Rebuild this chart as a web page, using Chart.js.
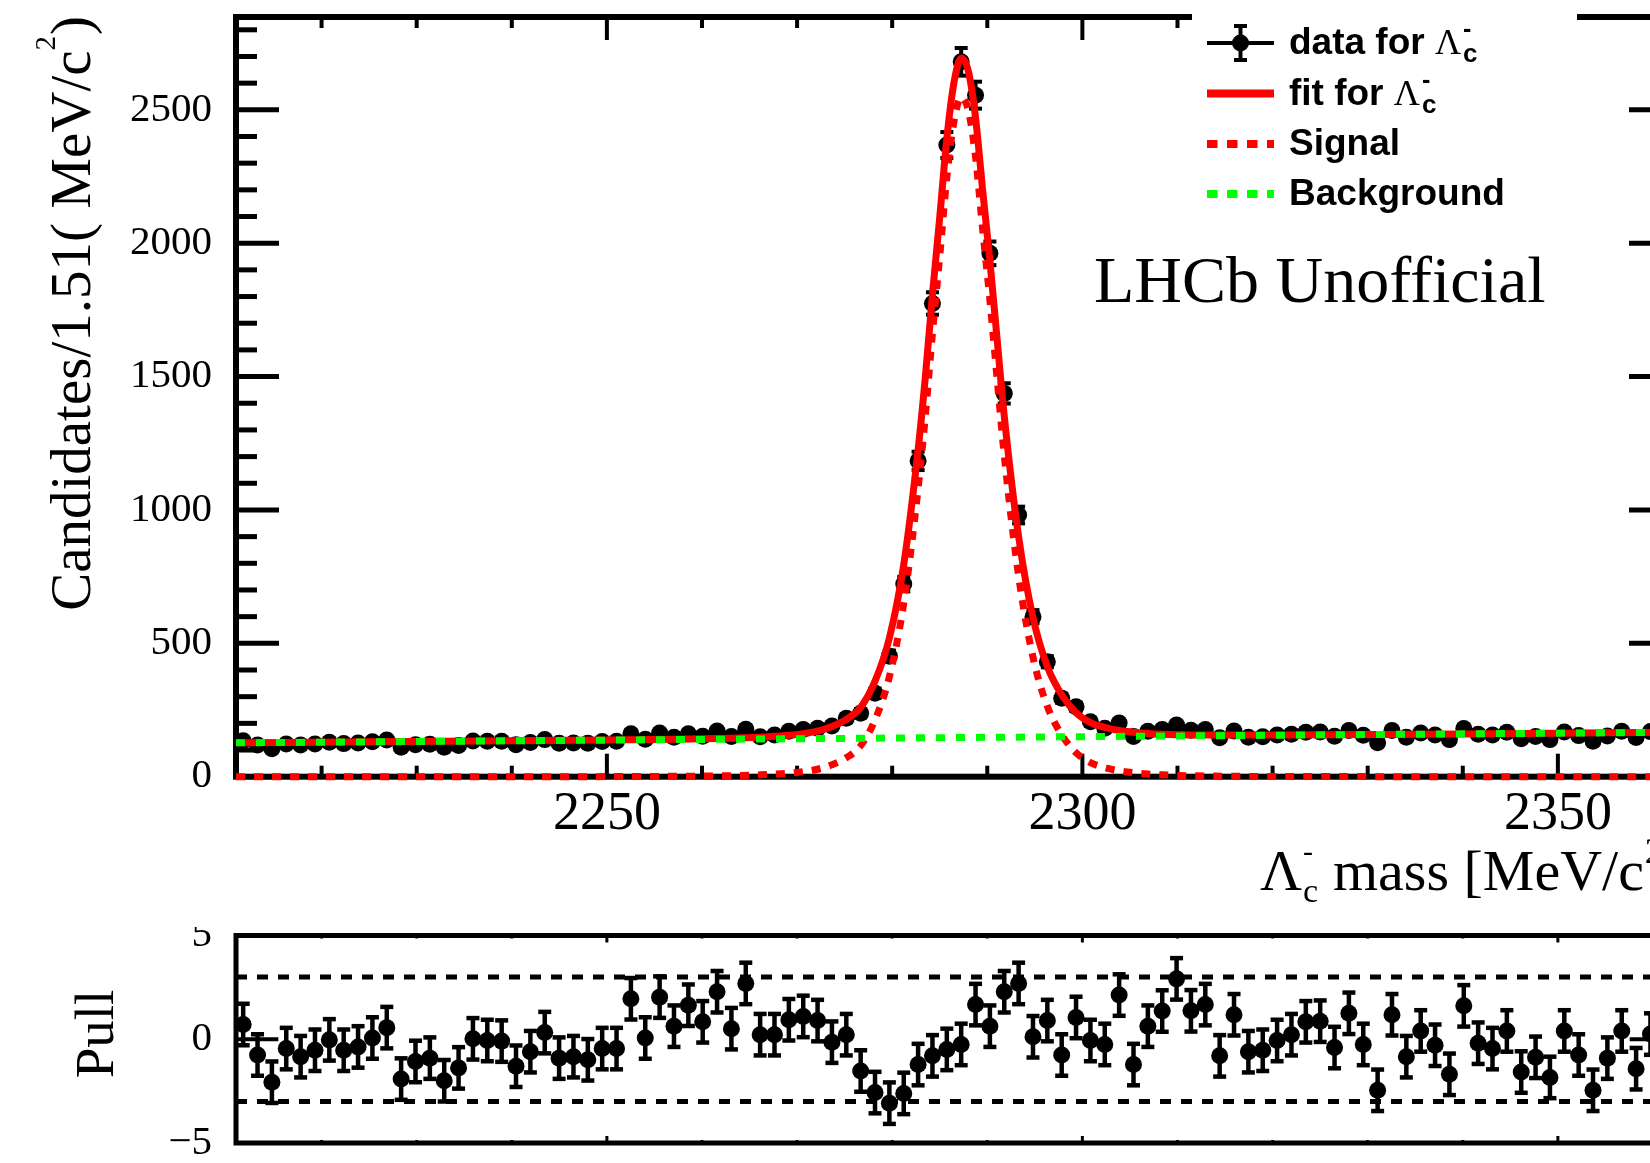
<!DOCTYPE html>
<html><head><meta charset="utf-8">
<script src="https://cdn.jsdelivr.net/npm/chart.js@4.4.1/dist/chart.umd.min.js"></script>
<style>
html,body{margin:0;padding:0;background:#fff;overflow:hidden;width:1650px;height:1163px;}
canvas{position:absolute;left:0;}
#main{top:0;}
#pull{top:927px;}
</style></head><body>
<canvas id="main" width="1700" height="927"></canvas>
<canvas id="pull" width="1700" height="236"></canvas>
<script>
// ---------------- data ----------------
const binCenters = [2211.755,2213.265,2214.775,2216.285,2217.795,2219.305,2220.815,2222.325,2223.835,2225.345,
2226.855,2228.365,2229.875,2231.385,2232.895,2234.405,2235.915,2237.425,2238.935,2240.445,
2241.955,2243.465,2244.975,2246.485,2247.995,2249.505,2251.015,2252.525,2254.035,2255.545,
2257.055,2258.565,2260.075,2261.585,2263.095,2264.605,2266.115,2267.625,2269.135,2270.645,
2272.155,2273.665,2275.175,2276.685,2278.195,2279.705,2281.215,2282.725,2284.235,2285.745,
2287.255,2288.765,2290.275,2291.785,2293.295,2294.805,2296.315,2297.825,2299.335,2300.845,
2302.355,2303.865,2305.375,2306.885,2308.395,2309.905,2311.415,2312.925,2314.435,2315.945,
2317.455,2318.965,2320.475,2321.985,2323.495,2325.005,2326.515,2328.025,2329.535,2331.045,
2332.555,2334.065,2335.575,2337.085,2338.595,2340.105,2341.615,2343.125,2344.635,2346.145,
2347.655,2349.165,2350.675,2352.185,2353.695,2355.205,2356.715,2358.225,2359.735,2361.245];
const binHalfWidth = 0.755;

const counts = [135,119,105,123,119,123,129,124,126,131,
138,110,120,122,110,117,134,133,133,120,
128,139,125,126,125,132,133,161,140,164,
148,161,152,171,151,178,150,156,170,177,
182,190,219,238,313,452,722,1184,1774,2368,
2680,2555,1962,1437,981,600,431,294,262,206,
182,201,151,170,177,194,174,177,146,171,
148,150,156,159,167,168,152,173,155,127,
173,148,164,156,139,181,159,156,167,142,
151,139,168,154,133,153,170,147,169,160];

const countErrors = [11.6,10.9,10.2,11.1,10.9,11.1,11.4,11.1,11.2,11.4,
11.7,10.5,11.0,11.0,10.5,10.8,11.6,11.5,11.5,11.0,
11.3,11.8,11.2,11.2,11.2,11.5,11.5,12.7,11.8,12.8,
12.2,12.7,12.3,13.1,12.3,13.3,12.2,12.5,13.0,13.3,
13.5,13.8,14.8,15.4,17.7,21.3,26.9,34.4,42.1,48.7,
51.8,50.5,44.3,37.9,31.3,24.5,20.8,17.1,16.2,14.4,
13.5,14.2,12.3,13.0,13.3,13.9,13.2,13.3,12.1,13.1,
12.2,12.2,12.5,12.6,12.9,13.0,12.3,13.2,12.4,11.3,
13.2,12.2,12.8,12.5,11.8,13.5,12.6,12.5,12.9,11.9,
12.3,11.8,13.0,12.4,11.5,12.4,13.0,12.1,13.0,12.6];

const pulls = [0.71,-0.76,-2.07,-0.45,-0.84,-0.53,-0.03,-0.53,-0.37,0.06,
0.56,-1.92,-1.07,-0.91,-2.0,-1.38,0.02,-0.06,-0.09,-1.3,
-0.6,0.32,-0.91,-0.84,-0.99,-0.45,-0.45,1.95,0.06,2.03,
0.63,1.64,0.84,2.29,0.51,2.69,0.22,0.22,0.94,1.1,
0.9,-0.14,0.22,-1.53,-2.57,-3.08,-2.61,-1.22,-0.8,-0.49,
-0.25,1.67,0.63,2.29,2.69,0.12,0.9,-0.76,1.05,-0.06,
-0.25,2.13,-1.22,0.63,1.36,2.91,1.37,1.67,-0.8,1.18,
-0.6,-0.53,-0.06,0.22,0.84,0.87,-0.4,1.25,-0.25,-2.46,
1.18,-0.84,0.4,-0.29,-1.69,1.61,-0.19,-0.45,0.4,-1.58,
-0.87,-1.84,0.4,-0.76,-2.46,-0.91,0.4,-1.42,0.25,-0.5];
const pullError = 1;

const fitMass = [2211,2225,2240,2250,2257.055,2260.075,2263.095,2266.115,2267.625,2269.135,
2270.645,2272.155,2273.665,2275.175,2276.685,2278.195,2279.705,2281.215,2282.725,2283.48,
2284.235,2284.99,2285.745,2286.5,2287.255,2288.0,2288.765,2289.52,2290.275,2291.03,
2291.785,2293.295,2294.805,2296.315,2297.825,2299.335,2300.845,2302.355,2303.865,2305.375,
2306.885,2308.395,2311.415,2314.435,2317.455,2320.475,2330,2340,2350,2362];
const fitTotal = [127.0,130.6,134.6,137.4,140.4,142.1,144.5,148.3,151.2,155.1,
161.5,170.9,188,215,260,358,520,795,1226,1496,
1808,2093,2392,2603,2693,2646,2471,2196,1934,1641,
1352,900,597,413,307,240,203,185,173,166.5,
162,159.3,156.6,155.9,155.9,156.3,158.2,160.5,163.1,166.3];

const sigMass = [2211,2240,2250,2257.055,2260.075,2263.095,2266.115,2267.625,2269.135,2270.645,
2272.155,2273.665,2275.175,2276.685,2278.195,2279.705,2281.215,2282.725,2283.48,2284.235,
2284.99,2285.745,2286.5,2287.255,2288.0,2288.765,2289.52,2290.275,2291.03,2291.785,
2293.295,2294.805,2296.315,2297.825,2299.335,2300.845,2302.355,2303.865,2305.375,2306.885,
2308.395,2311.415,2314.435,2317.455,2320.475,2330,2340,2362];
const sigValue = [0,0.1,0.3,1.4,2.3,4,7,9.5,13,19,
28,44.7,71,116,213,375,650,1080,1350,1662,
1947,2246,2457,2546,2499,2324,2049,1786,1493,1204,
752,448,264,157,90,53,34,22,15,10,
7,3.5,2,1.2,0.8,0.3,0.1,0];

const bkgMass = [2211, 2362];
const bkgValue = [127, 166.3];

const pullBandLevels = [3, -3];
const zeroSegMass = [2211, 2215.45, null, 2357.55, 2362];

const xRange = [2211, 2362];
const yRange = [0, 2848];
const pullRange = [-5, 5];
const xTickLabels = [2250, 2300, 2350];
const yTickLabels = [0, 500, 1000, 1500, 2000, 2500];
const pullTickLabels = [-5, 0, 5];
const legendLabels = ['data for ', 'fit for ', 'Signal', 'Background'];

// ---------------- styling ----------------
const SERIF = '"Liberation Serif","Times New Roman",Times,serif';
const SANS = '"Liberation Sans",Arial,Helvetica,sans-serif';
const RED = '#ff0000', GREEN = '#00ff00';
const MARKER_R = 8.5;

function seg(ctx, x1, y1, x2, y2) { ctx.beginPath(); ctx.moveTo(x1, y1); ctx.lineTo(x2, y2); ctx.stroke(); }
function zeroPad(s) { s.paddingTop = 0; s.paddingBottom = 0; s.paddingLeft = 0; s.paddingRight = 0; }
const plainLabel = v => (v < 0 ? '\u2212' + Math.abs(v) : String(v));

// Lambda_c^- glyph group; returns end x
function drawLambdaC(ctx, x, base, o) {
  ctx.font = o.mainFont; ctx.fillText('\u039B', x, base);
  const xs = x + ctx.measureText('\u039B').width + o.gap;
  ctx.font = o.supFont; ctx.fillText('-', xs, base - o.raise);
  const w1 = ctx.measureText('-').width;
  ctx.font = o.subFont; ctx.fillText('c', xs, base + o.drop);
  const w2 = ctx.measureText('c').width;
  return xs + Math.max(w1, w2);
}

const mainDeco = {
  id: 'mainDeco',
  beforeDatasetsDraw(chart) {
    const { ctx, chartArea: a, scales: { x, y } } = chart;
    ctx.save();
    ctx.strokeStyle = '#000'; ctx.lineCap = 'butt';
    ctx.lineWidth = 6;
    ctx.strokeRect(a.left, a.top, a.right - a.left, a.bottom - a.top);
    ctx.lineWidth = 5;
    for (let v = 0; v <= y.max; v += 100) {
      const py = y.getPixelForValue(v), len = v % 500 === 0 ? 43 : 21;
      seg(ctx, a.left, py, a.left + len, py);
      seg(ctx, a.right - len, py, a.right, py);
    }
    ctx.lineWidth = 4;
    for (let m = 2220; m <= x.max; m += 10) {
      const px = x.getPixelForValue(m), len = m % 50 === 0 ? 23 : 11;
      seg(ctx, px, a.bottom, px, a.bottom - len);
      seg(ctx, px, a.top, px, a.top + len);
    }
    // error bars of the data
    ctx.lineWidth = 4;
    binCenters.forEach((m, i) => {
      const px = x.getPixelForValue(m), py = y.getPixelForValue(counts[i]);
      const pt = y.getPixelForValue(counts[i] + countErrors[i]);
      const pb = y.getPixelForValue(counts[i] - countErrors[i]);
      seg(ctx, x.getPixelForValue(m - binHalfWidth), py, x.getPixelForValue(m + binHalfWidth), py);
      seg(ctx, px, pt, px, pb);
      seg(ctx, px - 6.5, pt, px + 6.5, pt);
      seg(ctx, px - 6.5, pb, px + 6.5, pb);
    });
    ctx.restore();
  },
  afterDatasetsDraw(chart) {
    const { ctx } = chart;
    ctx.save();
    // legend
    ctx.fillStyle = '#fff';
    ctx.fillRect(1192, 11, 385, 222);
    const rowY = [43, 93.5, 144, 194];
    const x0 = 1207, x1 = 1274, tx = 1289;
    ctx.lineCap = 'butt';
    // data entry
    ctx.strokeStyle = '#000'; ctx.lineWidth = 4;
    seg(ctx, x0, rowY[0], x1, rowY[0]);
    seg(ctx, 1240.5, rowY[0] - 17, 1240.5, rowY[0] + 17);
    seg(ctx, 1234, rowY[0] - 17, 1247, rowY[0] - 17);
    seg(ctx, 1234, rowY[0] + 17, 1247, rowY[0] + 17);
    ctx.fillStyle = '#000';
    ctx.beginPath(); ctx.arc(1240.5, rowY[0], MARKER_R, 0, Math.PI * 2); ctx.fill();
    // fit
    ctx.strokeStyle = RED; ctx.lineWidth = 8;
    seg(ctx, x0, rowY[1], x1, rowY[1]);
    // signal
    ctx.setLineDash([10.5, 9.5]);
    seg(ctx, x0, rowY[2], x1, rowY[2]);
    ctx.strokeStyle = GREEN;
    seg(ctx, x0, rowY[3], x1, rowY[3]);
    ctx.setLineDash([]);
    // texts
    ctx.fillStyle = '#000'; ctx.textBaseline = 'alphabetic'; ctx.textAlign = 'left';
    const lOpts = { mainFont: '36px ' + SERIF, supFont: 'bold 25px ' + SANS, subFont: 'bold 26px ' + SANS, gap: 2, raise: 17, drop: 8 };
    legendLabels.forEach((t, i) => {
      const base = rowY[i] + 11;
      ctx.font = 'bold 37px ' + SANS;
      ctx.fillText(t, tx, base);
      if (i < 2) {
        const w = ctx.measureText(t).width;
        drawLambdaC(ctx, tx + w, base, lOpts);
      }
    });
    // LHCb label
    ctx.font = '66px ' + SERIF;
    ctx.fillText('LHCb Unofficial', 1094, 302);
    // x axis title
    const xo = { mainFont: '58px ' + SERIF, supFont: '30px ' + SERIF, subFont: '34px ' + SERIF, gap: 1, raise: 29, drop: 12 };
    drawLambdaC(ctx, 1260, 890, xo);
    ctx.font = '58px ' + SERIF;
    const t1 = 'mass [MeV/c';
    ctx.fillText(t1, 1333, 890);
    let xe = 1333 + ctx.measureText(t1).width;
    ctx.font = '36px ' + SERIF; ctx.fillText('2', xe + 1, 863);
    xe += ctx.measureText('2').width + 2;
    ctx.font = '58px ' + SERIF; ctx.fillText(']', xe, 890);
    // y axis title (rotated)
    const p1 = 'Candidates/1.51( MeV/c', p2 = '2', p3 = ')';
    ctx.font = '57px ' + SERIF; const w1 = ctx.measureText(p1).width, w3 = ctx.measureText(p3).width;
    ctx.font = '29px ' + SERIF; const w2 = ctx.measureText(p2).width;
    const total = w1 + w2 + w3 + 1;
    ctx.translate(90, 16 + total);
    ctx.rotate(-Math.PI / 2);
    ctx.font = '57px ' + SERIF; ctx.fillText(p1, 0, 0);
    ctx.font = '29px ' + SERIF; ctx.fillText(p2, w1, -35);
    ctx.font = '57px ' + SERIF; ctx.fillText(p3, w1 + w2 + 1, 0);
    ctx.restore();
  }
};

const pullDeco = {
  id: 'pullDeco',
  beforeDatasetsDraw(chart) {
    const { ctx, chartArea: a, scales: { x, y } } = chart;
    ctx.save();
    ctx.strokeStyle = '#000'; ctx.lineCap = 'butt';
    ctx.lineWidth = 5;
    ctx.strokeRect(a.left, a.top, a.right - a.left, a.bottom - a.top);
    ctx.lineWidth = 3;
    for (let m = 2220; m <= x.max; m += 10) {
      const px = x.getPixelForValue(m), len = m % 50 === 0 ? 7 : 3;
      seg(ctx, px, a.bottom, px, a.bottom - len);
      seg(ctx, px, a.top, px, a.top + len);
    }
    ctx.lineWidth = 4.5;
    binCenters.forEach((m, i) => {
      const px = x.getPixelForValue(m);
      const pt = y.getPixelForValue(pulls[i] + pullError);
      const pb = y.getPixelForValue(pulls[i] - pullError);
      seg(ctx, px, pt, px, pb);
      seg(ctx, px - 6.5, pt, px + 6.5, pt);
      seg(ctx, px - 6.5, pb, px + 6.5, pb);
    });
    ctx.restore();
  },
  afterDatasetsDraw(chart) {
    const { ctx } = chart;
    ctx.save();
    ctx.fillStyle = '#000';
    ctx.font = '55px ' + SERIF;
    ctx.textAlign = 'center'; ctx.textBaseline = 'alphabetic';
    ctx.translate(113, 107);
    ctx.rotate(-Math.PI / 2);
    ctx.fillText('Pull', 0, 0);
    ctx.restore();
  }
};

Chart.defaults.font.family = SERIF;
Chart.defaults.color = '#000';

const toXY = (xs, ys) => xs.map((m, i) => ({ x: m, y: ys[i] }));

new Chart(document.getElementById('main'), {
  type: 'scatter',
  data: {
    datasets: [
      { label: 'Background', data: toXY(bkgMass, bkgValue), showLine: true, borderColor: GREEN, borderWidth: 7,
        borderDash: [9, 11], pointRadius: 0, clip: false, order: 0 },
      { label: 'Signal', data: toXY(sigMass, sigValue), showLine: true, borderColor: RED, borderWidth: 7,
        borderDash: [9, 9], pointRadius: 0, cubicInterpolationMode: 'monotone', clip: false, order: 1 },
      { label: 'fit', data: toXY(fitMass, fitTotal), showLine: true, borderColor: RED, borderWidth: 7,
        pointRadius: 0, cubicInterpolationMode: 'monotone', clip: false, order: 2 },
      { label: 'data', data: toXY(binCenters, counts), showLine: false, pointRadius: MARKER_R, pointBorderWidth: 0,
        backgroundColor: '#000', borderColor: '#000', pointBackgroundColor: '#000', clip: false, order: 3 }
    ]
  },
  options: {
    responsive: false, animation: false, devicePixelRatio: 1, events: [],
    layout: { padding: { left: 0, top: 17, right: 28, bottom: 0 } },
    plugins: { legend: { display: false }, tooltip: { enabled: false } },
    scales: {
      x: {
        type: 'linear', min: xRange[0], max: xRange[1],
        grid: { display: false, drawTicks: false }, border: { display: false },
        ticks: { font: { family: SERIF, size: 54 }, color: '#000', padding: 6, maxRotation: 0, autoSkip: false,
          callback: plainLabel },
        afterBuildTicks: s => { s.ticks = xTickLabels.map(v => ({ value: v })); },
        afterFit: s => { s.height = 150.3; zeroPad(s); }
      },
      y: {
        type: 'linear', min: yRange[0], max: yRange[1],
        grid: { display: false, drawTicks: false }, border: { display: false },
        ticks: { font: { family: SERIF, size: 41 }, color: '#000', padding: 24, autoSkip: false,
          callback: plainLabel },
        afterBuildTicks: s => { s.ticks = yTickLabels.map(v => ({ value: v })); },
        afterFit: s => { s.width = 236; zeroPad(s); }
      }
    }
  },
  plugins: [mainDeco]
});

const bandSets = pullBandLevels.map(l => ({
  label: 'band', data: [{ x: xRange[0], y: l }, { x: xRange[1], y: l }], showLine: true,
  borderColor: '#000', borderWidth: 5, borderDash: [11, 10], pointRadius: 0, clip: false, order: 2
}));

new Chart(document.getElementById('pull'), {
  type: 'scatter',
  data: {
    datasets: [
      { label: 'pull', data: toXY(binCenters, pulls), showLine: false, pointRadius: MARKER_R, pointBorderWidth: 0,
        backgroundColor: '#000', borderColor: '#000', pointBackgroundColor: '#000', clip: false, order: 0 },
      { label: 'zero', data: zeroSegMass.map(m => ({ x: m === null ? 2290 : m, y: m === null ? null : 0 })),
        showLine: true, spanGaps: false, borderColor: '#000', borderWidth: 4, pointRadius: 0, clip: false, order: 1 },
      ...bandSets
    ]
  },
  options: {
    responsive: false, animation: false, devicePixelRatio: 1, events: [],
    layout: { padding: { left: 0, top: 3, right: 28, bottom: 20 } },
    plugins: { legend: { display: false }, tooltip: { enabled: false } },
    scales: {
      x: { type: 'linear', min: xRange[0], max: xRange[1], display: false,
        afterFit: s => { zeroPad(s); } },
      y: {
        type: 'linear', min: pullRange[0], max: pullRange[1],
        grid: { display: false, drawTicks: false }, border: { display: false },
        ticks: { font: { family: SERIF, size: 41 }, color: '#000', padding: 24, autoSkip: false,
          callback: plainLabel },
        afterBuildTicks: s => { s.ticks = pullTickLabels.map(v => ({ value: v })); },
        afterFit: s => { s.width = 236; zeroPad(s); }
      }
    }
  },
  plugins: [pullDeco]
});
</script>
</body></html>
